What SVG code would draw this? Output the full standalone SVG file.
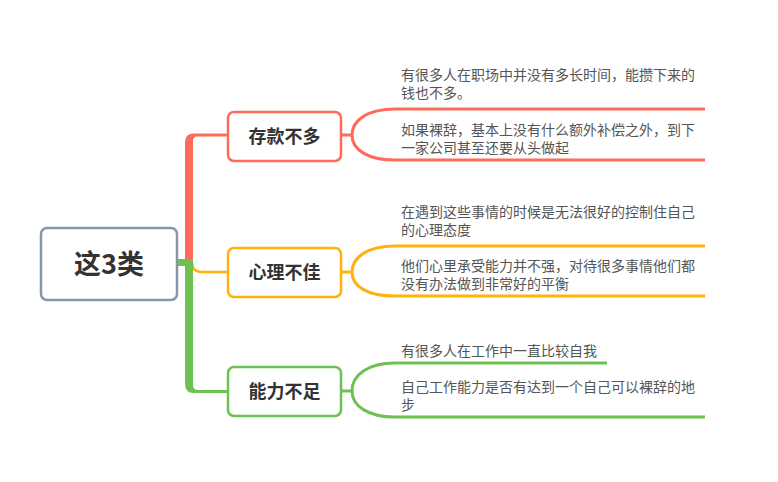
<svg xmlns="http://www.w3.org/2000/svg" width="778" height="482" viewBox="0 0 778 482">
<style>
.node{fill:#fff;stroke-width:2.5}
.ntxt{font-family:"Noto Sans CJK SC","Liberation Sans",sans-serif;font-weight:bold;font-size:18px;fill:#333;text-anchor:middle}
.root{font-size:27px}
.leaf{font-family:"Noto Sans CJK SC","Liberation Sans",sans-serif;font-size:14px;fill:#555}
.br{fill:none;stroke-width:3}
.red{stroke:#ff6b5a}
.org{stroke:#ffb20b}
.grn{stroke:#6cc151}
</style>
<rect width="778" height="482" fill="#fff"/>
<g id="connectors">
<path d="M192,262 Q192,272 202,272 L228,272" fill="none" stroke="#ffb20b" stroke-width="2.5"/>
<path d="M185,263 L185,142 Q185,133.5 194,133.5 L228,133.5 L228,136.5 L197,136.5 Q193,136.5 193,141 L193,263 Z" fill="#ff6b5a"/>
<path d="M177,259 L193,259 L193,385 Q193,390 198,390 L228,390 L228,393 L194,393 Q185,393 185,384 L185,266 L177,266 Z" fill="#6cc151"/>
<path class="br red" d="M341,135 L352,135 M352,135 C352,120 368,109 395,109 L705,109 M352,135 C352,150 368,160 395,160 L705,160"/>
<path class="br org" d="M341,272 L352,272 M352,272 C352,257 368,246 395,246 L705,246 M352,272 C352,287 368,296 395,296 L705,296"/>
<path class="br grn" d="M341,391 L352,391 M352,391 C352,375 368,363 395,363 L607,363 M352,391 C352,406 368,417 395,417 L705,417"/>
</g>
<g id="root">
<rect class="node" x="41" y="228" width="136" height="72" rx="6" stroke="#8796ab" stroke-width="3"/>
<text class="ntxt root" x="109" y="274">这3类</text>
</g>
<g id="n1">
<rect class="node red" x="228" y="112" width="113" height="49" rx="6"/>
<text class="ntxt" x="284.5" y="143">存款不多</text>
</g>
<g id="n2">
<rect class="node org" x="228" y="248" width="113" height="49" rx="6"/>
<text class="ntxt" x="284.5" y="279">心理不佳</text>
</g>
<g id="n3">
<rect class="node grn" x="228" y="367" width="113" height="49" rx="6"/>
<text class="ntxt" x="284.5" y="398">能力不足</text>
</g>
<g id="n1a">
<text class="leaf" x="401" y="80">有很多人在职场中并没有多长时间，能攒下来的</text>
<text class="leaf" x="401" y="98">钱也不多。</text>
</g>
<g id="n1b">
<text class="leaf" x="401" y="135">如果裸辞，基本上没有什么额外补偿之外，到下</text>
<text class="leaf" x="401" y="153">一家公司甚至还要从头做起</text>
</g>
<g id="n2a">
<text class="leaf" x="401" y="217">在遇到这些事情的时候是无法很好的控制住自己</text>
<text class="leaf" x="401" y="235">的心理态度</text>
</g>
<g id="n2b">
<text class="leaf" x="401" y="271">他们心里承受能力并不强，对待很多事情他们都</text>
<text class="leaf" x="401" y="289">没有办法做到非常好的平衡</text>
</g>
<g id="n3a">
<text class="leaf" x="401" y="356">有很多人在工作中一直比较自我</text>
</g>
<g id="n3b">
<text class="leaf" x="401" y="392">自己工作能力是否有达到一个自己可以裸辞的地</text>
<text class="leaf" x="401" y="410">步</text>
</g>
</svg>
